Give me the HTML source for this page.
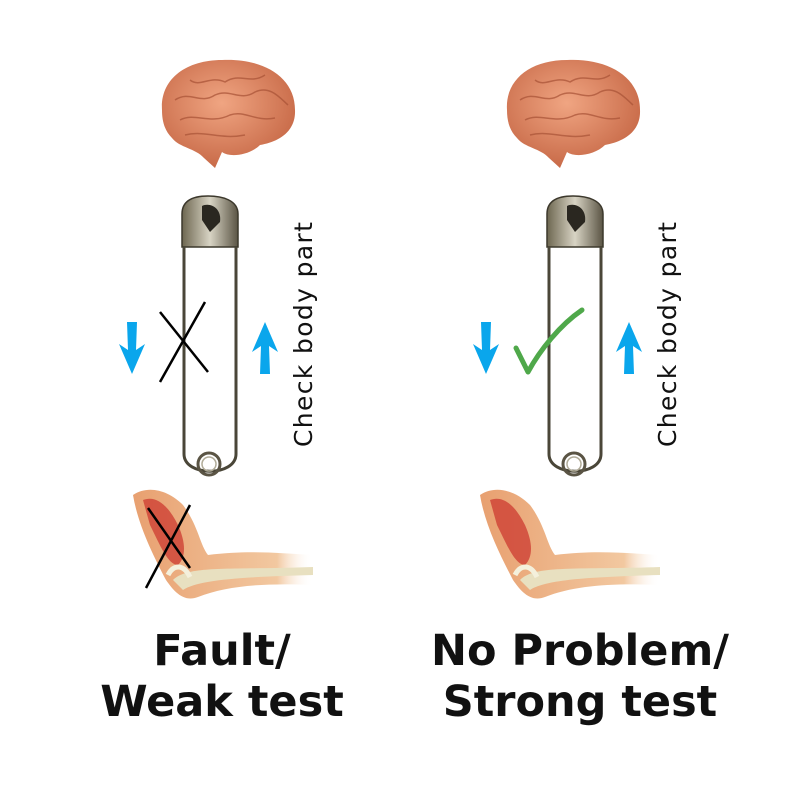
<!DOCTYPE html>
<html><head><style>
html,body{margin:0;padding:0;background:#fff;}
svg{display:block}
</style></head><body>
<svg width="800" height="800" viewBox="0 0 800 800" xmlns="http://www.w3.org/2000/svg">
<defs>
<radialGradient id="br" cx="45%" cy="40%" r="60%"><stop offset="0" stop-color="#f0a582"/><stop offset="1" stop-color="#c86a48"/></radialGradient>
<linearGradient id="pin" x1="0" x2="1"><stop offset="0" stop-color="#6d6650"/><stop offset=".5" stop-color="#d8d4c4"/><stop offset="1" stop-color="#5a5444"/></linearGradient>
<linearGradient id="arm" x1="0" x2="1"><stop offset="0" stop-color="#e8a070"/><stop offset=".8" stop-color="#f2c8a0"/><stop offset="1" stop-color="#fff" stop-opacity="0"/></linearGradient>
<g id="brain">
<path d="M2,50 C0,20 25,0 62,0 C100,-2 135,15 135,50 C136,72 118,82 100,85 C90,95 70,98 62,92 L55,108 L44,98 C35,88 20,88 12,78 C4,70 2,60 2,50Z" fill="url(#br)"/>
<g fill="none" stroke="#a85236" stroke-width="1.5" opacity=".7">
<path d="M15,40 C30,30 40,45 55,35 C70,28 80,42 95,32 C110,25 120,38 128,45"/>
<path d="M20,60 C35,52 50,65 70,55 C85,50 95,62 115,58"/>
<path d="M30,20 C40,28 50,15 65,22 C80,12 90,25 105,15"/>
<path d="M25,75 C45,70 60,80 85,75"/>
</g>
</g>
<g id="pinG">
<path d="M30,4 C44,4 60,8 60,22 L60,55 L4,55 L4,22 C4,8 16,4 30,4Z" fill="url(#pin)" stroke="#3c382c" stroke-width="1.5"/>
<path d="M24,14 C32,10 44,16 42,30 L32,40 L24,28Z" fill="#2a2720"/>
<path d="M6,55 L6,262 M58,55 L58,262" stroke="#4a4638" stroke-width="3" fill="none"/>
<path d="M6,262 C6,285 58,285 58,262" stroke="#4a4638" stroke-width="3" fill="none"/>
<circle cx="31" cy="272" r="11" fill="none" stroke="#5a5444" stroke-width="3"/>
<circle cx="31" cy="272" r="7" fill="none" stroke="#b0ab98" stroke-width="1.5"/>
</g>
<g id="downA"><path d="M-5,0 L5,0 L4,28 L13,22 L0,52 L-13,22 L-4,28Z" fill="#0aa6ec"/></g>
<g id="upA"><path d="M-5,52 L5,52 L4,24 L13,30 L0,0 L-13,30 L-4,24Z" fill="#0aa6ec"/></g>
<g id="armG">
<path d="M5,10 C20,0 40,5 55,20 C70,40 72,60 80,70 C120,65 150,68 185,70 L185,100 C140,98 100,100 70,112 C55,118 45,105 38,95 C25,70 10,40 5,10Z" fill="url(#arm)"/>
<path d="M15,15 C28,10 40,20 50,40 C58,58 58,72 50,80 C40,80 32,60 22,40Z" fill="#cc3a30" opacity=".75"/>
<path d="M45,95 C60,80 100,85 185,82 L185,90 C110,92 70,95 55,105Z" fill="#e8e0c0"/>
<path d="M40,90 C45,80 55,78 62,92" fill="none" stroke="#f4f0dc" stroke-width="5"/>
</g>
</defs>
<use href="#brain" x="160" y="60"/>
<use href="#brain" x="505" y="60"/>
<use href="#pinG" x="178" y="192"/>
<use href="#pinG" x="543" y="192"/>
<use href="#downA" x="132" y="322"/>
<use href="#upA" x="265" y="322"/>
<use href="#downA" x="486" y="322"/>
<use href="#upA" x="629" y="322"/>
<text transform="translate(312,447) rotate(-90)" font-family="DejaVu Sans, sans-serif" font-size="25" fill="#111" textLength="225">Check body part</text>
<text transform="translate(676,447) rotate(-90)" font-family="DejaVu Sans, sans-serif" font-size="25" fill="#111" textLength="225">Check body part</text>
<path d="M160,312 L208,372 M205,302 L160,382" stroke="#000" stroke-width="2.5"/>
<path d="M516,348 L528,372 C540,350 560,325 582,310" fill="none" stroke="#4fa84a" stroke-width="5" stroke-linecap="round" stroke-linejoin="round"/>
<use href="#armG" x="128" y="485"/>
<use href="#armG" x="475" y="485"/>
<path d="M148,508 L190,568 M190,505 L146,588" stroke="#000" stroke-width="2.5"/>
<g font-family="DejaVu Sans, sans-serif" font-weight="bold" font-size="43" fill="#111" text-anchor="middle">
<text x="222" y="665">Fault/</text>
<text x="222" y="716">Weak test</text>
<text x="580" y="665">No Problem/</text>
<text x="580" y="716">Strong test</text>
</g>
</svg>
</body></html>
